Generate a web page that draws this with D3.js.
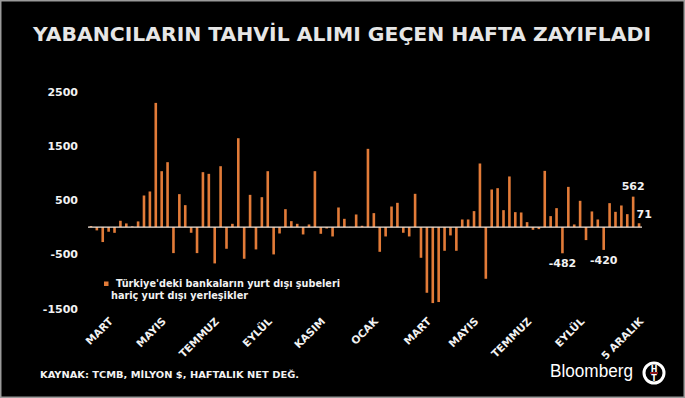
<!DOCTYPE html>
<html>
<head>
<meta charset="utf-8">
<script src="https://cdn.jsdelivr.net/npm/d3@7"></script>
<style>
  body { margin: 0; background: #000; }
  svg { display: block; }
</style>
</head>
<body>
<div id="chart"></div>
<script>
// weekly net foreign bond purchases, million $
var values = [
  20, -60, -275, -85, -105, 117, 68, 15, 105, 583,
  657, 2290, 1031, 1197, -479, 608, 405, -104, -479, 1013,
  982, -669, 1123, -399, 61, 1639, -583, 595, -411, 552,
  1031, -503, -117, 331, 110, 61, -135, 49, 1031, -123,
  -25, -172, 362, 153, 5, 233, 25, 1443, 258, -455,
  -172, 380, 448, -104, -172, 614, -565, -1210, -1400, -1381,
  -436, -153, -436, 141, 141, 295, 1173, -952, 694, 718,
  313, 934, 276, 270, 92, -49, -37, 1037, 203, 350,
  -482, 742, 49, 485, -239, 289, 141, -420, 442, 282,
  399, 239, 562, 71
];
var weeks = values.map(function(d, i) { return i; });

var yTicks = [2500, 1500, 500, -500, -1500];
var monthLabels = ["MART", "MAYIS", "TEMMUZ", "EYLÜL", "KASIM", "OCAK", "MART", "MAYIS", "TEMMUZ", "EYLÜL", "5 ARALIK"];
var monthAt = [3, 12, 21, 30, 39, 48, 57, 65, 74, 83, 93];
var labelled = [80, 87, 92, 93];

var svgWidth = 685;
var svgHeight = 398;
var orange = "#e27b38";

var svg = d3.select("#chart")
  .append("svg")
  .attr("width", svgWidth)
  .attr("height", svgHeight);

svg.append("rect")
  .attr("x", 0.75).attr("y", 0.75)
  .attr("width", svgWidth - 1.5).attr("height", svgHeight - 1.5)
  .attr("fill", "#000")
  .attr("stroke", "#9a9a9a")
  .attr("stroke-width", 1.5);

// title
svg.append("text")
  .attr("x", 342)
  .attr("y", 41)
  .attr("text-anchor", "middle")
  .attr("textLength", 618)
  .attr("lengthAdjust", "spacingAndGlyphs")
  .style("font-family", "DejaVu Sans")
  .style("font-weight", "bold")
  .style("font-size", "19px")
  .style("fill", "#e6e6e6")
  .text("YABANCILARIN TAHVİL ALIMI GEÇEN HAFTA ZAYIFLADI");

// scales
var x = d3.scaleBand()
  .domain(weeks)
  .range([88, 642]);

var y = d3.scaleLinear()
  .domain([-1500, 2500])
  .range([308.5, 91.5]);

var barW = 2.6;
var plain = function(v) { return String(v); };

// y axis (labels only)
var yAxis = svg.append("g")
  .attr("transform", "translate(88,0)")
  .call(d3.axisLeft(y).tickValues(yTicks).tickFormat(plain).tickSize(0).tickPadding(10));
yAxis.select(".domain").remove();
yAxis.selectAll("text")
  .style("font-family", "DejaVu Sans")
  .style("font-weight", "bold")
  .style("font-size", "11px")
  .style("fill", "#f2f2f2");

// bars
svg.selectAll(".bar")
  .data(values)
  .enter()
  .append("rect")
  .attr("class", "bar")
  .attr("x", function(d, i) { return x(i) + x.bandwidth() / 2 - barW / 2; })
  .attr("y", function(d) { return y(Math.max(0, d)); })
  .attr("width", barW)
  .attr("height", function(d) { return Math.abs(y(d) - y(0)); })
  .attr("fill", orange);

// zero line
svg.append("line")
  .attr("x1", 88).attr("x2", 642)
  .attr("y1", y(0)).attr("y2", y(0))
  .attr("stroke", "#efe4da")
  .attr("stroke-width", 1.2);

// month labels
svg.selectAll(".month")
  .data(monthLabels)
  .enter()
  .append("text")
  .attr("class", "month")
  .attr("text-anchor", "end")
  .attr("transform", function(d, i) {
    var px = x(monthAt[i]) + x.bandwidth() / 2 + 5;
    return "translate(" + px + ",322) rotate(-45)";
  })
  .style("font-family", "DejaVu Sans")
  .style("font-weight", "bold")
  .style("font-size", "10.5px")
  .style("fill", "#f2f2f2")
  .text(function(d) { return d; });

// value annotations
svg.selectAll(".note")
  .data(labelled)
  .enter()
  .append("text")
  .attr("class", "note")
  .attr("text-anchor", function(i) { return i === 93 ? "start" : "middle"; })
  .attr("x", function(i) {
    var cx = x(i) + x.bandwidth() / 2;
    return i === 93 ? cx - 2.5 : cx;
  })
  .attr("y", function(i) {
    var v = values[i];
    if (i === 93) return y(v) - 5;
    return v < 0 ? y(v) + 14 : y(v) - 6.5;
  })
  .style("font-family", "DejaVu Sans")
  .style("font-weight", "bold")
  .style("font-size", "11px")
  .style("fill", "#f2f2f2")
  .text(function(i) { return values[i]; });

// legend
svg.append("rect")
  .attr("x", 104).attr("y", 281.5)
  .attr("width", 4.5).attr("height", 4.5)
  .attr("fill", orange);

svg.append("text")
  .attr("x", 116).attr("y", 287)
  .attr("textLength", 224)
  .attr("lengthAdjust", "spacingAndGlyphs")
  .style("font-family", "DejaVu Sans")
  .style("font-weight", "bold")
  .style("font-size", "10px")
  .style("fill", "#f2f2f2")
  .text("Türkiye'deki bankaların yurt dışı şubeleri");

svg.append("text")
  .attr("x", 111).attr("y", 298.5)
  .attr("textLength", 137)
  .attr("lengthAdjust", "spacingAndGlyphs")
  .style("font-family", "DejaVu Sans")
  .style("font-weight", "bold")
  .style("font-size", "10px")
  .style("fill", "#f2f2f2")
  .text("hariç yurt dışı yerleşikler");

// source
svg.append("text")
  .attr("x", 40).attr("y", 378)
  .attr("textLength", 259)
  .attr("lengthAdjust", "spacingAndGlyphs")
  .style("font-family", "DejaVu Sans")
  .style("font-weight", "bold")
  .style("font-size", "9.5px")
  .style("fill", "#f2f2f2")
  .text("KAYNAK: TCMB, MİLYON $, HAFTALIK NET DEĞ.");

// logo
svg.append("text")
  .attr("x", 550).attr("y", 377)
  .attr("textLength", 83)
  .attr("lengthAdjust", "spacingAndGlyphs")
  .style("font-family", "Liberation Sans")
  .style("font-size", "17.5px")
  .style("fill", "#ffffff")
  .text("Bloomberg");

var logo = svg.append("g").attr("transform", "translate(654,373)");
logo.append("circle")
  .attr("r", 10)
  .attr("fill", "#000")
  .attr("stroke", "#fff")
  .attr("stroke-width", 3);
logo.append("text")
  .attr("y", -1.5)
  .attr("text-anchor", "middle")
  .style("font-family", "DejaVu Sans")
  .style("font-weight", "bold")
  .style("font-size", "8px")
  .style("fill", "#fff")
  .text("H");
logo.append("line")
  .attr("x1", -4).attr("x2", 4)
  .attr("y1", 0).attr("y2", 0)
  .attr("stroke", "#d0202a")
  .attr("stroke-width", 1.3);
logo.append("text")
  .attr("y", 7.5)
  .attr("text-anchor", "middle")
  .style("font-family", "DejaVu Sans")
  .style("font-weight", "bold")
  .style("font-size", "8px")
  .style("fill", "#fff")
  .text("T");
</script>
</body>
</html>
